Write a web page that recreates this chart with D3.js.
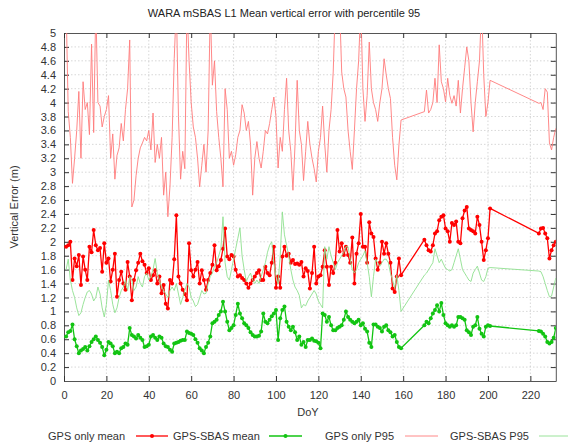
<!DOCTYPE html>
<html>
<head>
<meta charset="utf-8">
<script src="https://cdn.jsdelivr.net/npm/d3@7/dist/d3.min.js"></script>
<style>
  body { margin: 0; background: #fff; }
  svg { display: block; }
  text { font-family: "Liberation Sans", Arial, sans-serif; }
</style>
</head>
<body>
<div id="vis"></div>
<script>
// day of year for every sample
const days = [
  1,2,3,4,5,6,7,8,9,10, 11,12,13,14,15,16,17,18,19,20,
  21,22,23,24,25,26,27,28,29,30, 31,32,33,34,35,36,37,38,39,40,
  41,42,43,44,45,46,47,48,49,50, 51,52,53,54,55,56,57,58,59,60,
  61,62,63,64,65,66,67,68,69,70, 71,72,73,74,75,76,77,78,79,80,
  81,82,83,84,85,86,87,88,89,90, 91,92,93,94,95,96,97,98,99,100,
  101,102,103,104,105,106,107,108,109,110, 111,112,113,114,115,116,117,118,119,120,
  121,122,123,124,125,126,127,128,129,130, 131,132,133,134,135,136,137,138,139,140,
  141,142,143,144,145,146,147,148,149,150, 151,152,153,154,155,156,157,158,159,
  170,171,172,173,174,175,176,177,178,179, 180,181,182,183,184,185,186,187,188,189,
  190,191,192,193,194,195,196,197,198,199, 200,201,
  224,225,226,227,228,229,230,231,232
];

const gpsOnlyMean = [
  1.93,1.95,2.0,1.45,1.76,1.65,1.81,1.38,1.79,1.6,
  1.45,1.93,1.85,2.17,1.95,1.88,1.91,1.57,1.98,1.7,
  1.76,1.43,1.6,1.83,1.21,1.45,1.57,1.4,1.31,1.71,
  1.5,1.16,1.45,1.59,1.7,1.83,1.72,1.67,1.55,1.62,
  1.45,1.52,1.59,1.4,1.5,1.26,1.38,1.11,1.04,1.45,
  1.4,1.75,2.38,1.5,1.4,1.31,1.25,1.16,1.98,1.59,
  1.5,1.6,1.71,1.4,1.59,1.45,1.31,1.45,1.55,1.67,
  1.95,1.59,1.65,1.74,1.9,2.19,1.79,1.75,1.81,1.79,
  1.6,1.5,1.52,1.48,1.45,1.4,1.34,1.4,1.45,1.5,
  1.55,1.59,1.45,1.45,1.64,1.55,1.52,1.7,1.93,1.34,
  1.5,1.34,1.79,1.93,1.8,1.83,1.7,1.74,1.68,1.69,
  1.67,1.71,1.5,1.62,1.58,1.33,1.55,1.93,1.4,1.5,
  1.52,1.64,1.88,1.64,1.38,1.64,1.55,1.7,2.17,1.86,
  1.98,1.81,1.93,1.81,1.7,2.06,1.4,1.83,1.98,2.4,
  1.93,1.93,1.7,2.28,2.12,2.07,1.76,1.6,1.7,2.0,
  1.83,1.98,1.83,1.7,1.33,1.28,1.5,1.76,1.52,
  2.03,1.95,1.88,1.86,1.95,2.12,2.15,2.31,2.36,2.38,
  2.19,2.15,2.0,2.27,2.24,2.29,2.0,1.98,2.34,2.45,
  2.5,2.19,2.17,2.15,2.12,2.36,2.24,2.0,1.74,1.88,
  2.05,2.48,
  2.12,2.19,2.2,2.12,2.05,1.76,1.88,1.95,2.0
];

const sbasMean = [
  0.64,0.7,0.72,0.81,0.6,0.5,0.4,0.44,0.46,0.49,
  0.44,0.5,0.56,0.6,0.64,0.59,0.55,0.49,0.37,0.45,
  0.56,0.54,0.5,0.4,0.42,0.4,0.47,0.49,0.54,0.52,
  0.76,0.66,0.64,0.61,0.66,0.62,0.59,0.49,0.5,0.52,
  0.64,0.66,0.62,0.59,0.64,0.62,0.54,0.5,0.49,0.45,
  0.42,0.54,0.55,0.56,0.58,0.59,0.59,0.71,0.69,0.68,
  0.66,0.6,0.55,0.47,0.44,0.4,0.49,0.55,0.64,0.83,
  0.85,0.88,0.95,1.0,1.14,1.0,0.85,0.73,0.76,0.8,
  0.95,1.11,0.97,0.9,0.83,0.8,0.76,0.7,0.66,0.64,
  0.64,0.65,0.71,0.97,0.85,0.83,0.88,0.93,0.97,1.02,
  0.59,0.9,1.02,1.07,0.85,0.78,0.73,0.78,0.7,0.59,
  0.64,0.52,0.56,0.49,0.59,0.59,0.61,0.58,0.57,0.55,
  0.47,0.97,0.95,0.85,0.92,0.8,0.73,0.73,0.76,0.78,
  0.8,0.88,1.0,0.92,0.88,0.85,0.83,0.85,0.88,0.8,
  0.83,0.75,0.71,0.55,0.49,0.81,0.81,0.78,0.76,0.71,
  0.78,0.8,0.73,0.7,0.64,0.66,0.56,0.49,0.47,
  0.8,0.85,0.83,0.9,0.97,1.02,1.09,1.0,1.12,0.95,
  0.83,0.8,0.78,0.8,0.78,0.8,0.92,0.92,0.9,0.88,
  0.73,0.7,0.66,0.78,0.8,0.92,0.75,0.68,0.64,0.78,
  0.8,0.79,
  0.72,0.71,0.68,0.64,0.56,0.54,0.56,0.62,0.76
];

const gpsOnlyP95 = [
  5.4,3.87,3.5,2.84,3.2,3.6,4.16,3.2,4.3,3.9,
  4.0,3.54,4.84,3.57,5.4,4.0,3.95,3.65,3.8,3.9,
  4.1,3.2,3.55,2.9,3.24,3.35,3.7,3.45,3.9,4.2,
  4.9,2.5,2.6,2.95,3.2,3.35,3.42,3.5,3.45,3.6,
  3.32,3.85,3.14,3.4,3.2,3.5,2.67,3.0,2.36,2.8,
  3.5,4.63,5.4,3.8,2.9,3.3,3.05,5.4,4.6,4.0,
  3.65,3.5,3.2,2.79,3.1,3.4,3.0,3.6,5.4,4.25,
  4.6,3.87,3.5,3.2,2.79,4.2,3.9,3.2,3.3,3.1,
  3.25,3.5,3.6,3.97,3.85,3.6,3.73,3.4,2.67,3.2,
  3.44,3.2,3.06,3.3,3.6,3.55,3.7,3.9,4.08,3.8,
  3.06,3.5,3.3,3.9,4.35,3.6,3.3,2.74,3.4,4.32,
  3.6,3.4,2.88,3.3,3.73,3.4,3.2,3.05,2.86,3.3,
  3.5,3.95,3.4,3.0,3.6,3.9,4.44,5.4,5.4,5.4,
  4.44,4.2,4.08,3.6,3.3,3.04,3.6,4.2,4.6,5.4,
  4.2,3.73,4.1,4.87,4.2,4.0,3.9,3.73,4.0,4.2,
  4.63,4.4,4.2,4.06,3.5,3.1,2.89,3.39,3.75,
  3.87,4.18,3.85,3.9,4.0,4.35,4.0,4.83,4.3,4.2,
  4.01,4.35,4.1,3.99,4.1,3.95,4.32,3.85,4.2,4.5,
  4.8,4.6,4.0,3.58,4.0,4.3,4.6,5.4,4.4,3.8,
  4.0,4.32,
  3.99,4.0,3.9,4.2,4.15,3.42,3.32,3.5,3.63
];

const sbasP95 = [
  1.6,1.75,1.45,1.3,1.2,1.05,0.94,0.98,1.1,1.2,
  1.28,1.3,1.25,1.15,1.2,1.35,1.25,1.05,0.92,1.1,
  1.45,1.3,1.1,0.98,1.05,1.2,1.3,1.35,1.45,1.3,
  1.5,1.45,1.3,1.35,1.5,1.4,1.35,1.5,1.55,1.45,
  1.5,1.6,1.76,1.55,1.45,1.35,1.3,1.25,1.2,1.3,
  1.35,1.3,1.4,1.25,1.1,1.2,1.3,1.4,1.35,1.2,
  1.15,1.07,1.1,1.2,1.3,1.25,1.26,1.4,1.5,1.55,
  1.65,1.7,1.8,1.9,2.36,1.7,1.5,1.45,1.6,1.75,
  1.9,2.05,2.2,1.8,1.6,1.43,1.5,1.55,1.45,1.4,
  1.45,1.4,1.5,1.6,1.7,1.85,1.95,2.0,1.7,1.5,
  1.4,1.8,2.43,2.1,1.95,1.8,1.6,1.45,1.35,1.3,
  1.23,1.05,1.1,1.08,1.15,1.2,1.25,1.3,1.25,1.15,
  1.1,1.05,1.93,1.75,1.93,1.8,1.7,1.6,1.7,1.75,
  1.8,1.85,1.93,1.93,1.75,1.6,1.55,1.6,1.7,1.75,
  1.8,1.87,1.7,1.5,1.21,1.5,1.75,1.7,1.65,1.7,
  1.75,1.75,1.7,1.55,1.45,1.33,1.52,1.3,1.0,
  1.52,1.55,1.6,1.65,1.7,1.9,1.8,1.7,1.75,1.68,
  1.62,1.6,1.58,1.6,1.7,1.8,1.9,1.75,1.6,1.55,
  1.5,1.45,1.43,1.55,1.6,1.65,1.55,1.45,1.43,1.5,
  1.62,1.63,
  1.58,1.57,1.5,1.4,1.3,1.21,1.22,1.35,1.48
];

const xTicks = [0,20,40,60,80,100,120,140,160,180,200,220];
const yTicks = [0,0.2,0.4,0.6,0.8,1,1.2,1.4,1.6,1.8,2,2.2,2.4,2.6,2.8,3,3.2,3.4,3.6,3.8,4,4.2,4.4,4.6,4.8,5];

let width = 568, height = 448;
let plot = {left: 64, right: 555.8, top: 33, bottom: 381};

let svg = d3.select('#vis')
  .append('svg')
  .attr('width', width)
  .attr('height', height)
  .style('background-color', '#fff');

let x = d3.scaleLinear().domain([0, 232]).range([plot.left, plot.right]);
let y = d3.scaleLinear().domain([0, 5]).range([plot.bottom, plot.top]);

svg.append('defs').append('clipPath').attr('id', 'clip')
  .append('rect')
  .attr('x', plot.left).attr('y', plot.top)
  .attr('width', plot.right - plot.left).attr('height', plot.bottom - plot.top);

// grid
let grid = svg.append('g').attr('stroke', '#bdbdbd').attr('stroke-width', 0.6).attr('stroke-dasharray', '1.5,2');
grid.selectAll('.gy').data(yTicks.slice(1, -1)).enter().append('line')
  .attr('x1', plot.left).attr('x2', plot.right)
  .attr('y1', d => y(d)).attr('y2', d => y(d));
grid.selectAll('.gx').data(xTicks.slice(1)).enter().append('line')
  .attr('y1', plot.top).attr('y2', plot.bottom)
  .attr('x1', d => x(d)).attr('x2', d => x(d));

// axes, ticks inward, mirrored
let axL = svg.append('g').attr('transform', 'translate(' + plot.left + ',0)')
  .call(d3.axisLeft(y).tickValues(yTicks).tickSizeInner(-5).tickSizeOuter(0).tickPadding(8).tickFormat(d => String(d)));
let axR = svg.append('g').attr('transform', 'translate(' + plot.right + ',0)')
  .call(d3.axisRight(y).tickValues(yTicks).tickSizeInner(-5).tickSizeOuter(0).tickFormat(''));
let axB = svg.append('g').attr('transform', 'translate(0,' + plot.bottom + ')')
  .call(d3.axisBottom(x).tickValues(xTicks).tickSizeInner(-5).tickSizeOuter(0).tickPadding(10));
let axT = svg.append('g').attr('transform', 'translate(0,' + plot.top + ')')
  .call(d3.axisTop(x).tickValues(xTicks).tickSizeInner(-5).tickSizeOuter(0).tickFormat(''));

[axL, axR, axB, axT].forEach(a => {
  a.select('.domain').attr('stroke', '#555');
  a.selectAll('.tick line').attr('stroke', '#333');
  a.selectAll('text').style('font-size', '11px').attr('fill', '#333');
});

// labels
svg.append('text')
  .attr('x', 284).attr('y', 17)
  .attr('text-anchor', 'middle')
  .style('font-size', '11px').attr('fill', '#222')
  .text('WARA mSBAS L1 Mean vertical error with percentile 95');

svg.append('text')
  .attr('x', 308).attr('y', 416)
  .attr('text-anchor', 'middle')
  .style('font-size', '11px').attr('fill', '#333')
  .text('DoY');

svg.append('text')
  .attr('transform', 'translate(18,' + ((plot.top + plot.bottom) / 2) + ')rotate(-90)')
  .attr('text-anchor', 'middle')
  .style('font-size', '11px').attr('fill', '#333')
  .text('Vertical Error (m)');

// series
let series = [
  {name: 'GPS only mean', values: gpsOnlyMean, color: '#ff0000', width: 1.3, dots: true},
  {name: 'GPS-SBAS mean', values: sbasMean, color: '#12c412', width: 1.3, dots: true},
  {name: 'GPS only P95', values: gpsOnlyP95, color: '#ff7a7a', width: 0.9, dots: false},
  {name: 'GPS-SBAS P95', values: sbasP95, color: '#8fe08f', width: 0.9, dots: false}
];

let line = d3.line().x(d => x(d[0])).y(d => y(d[1]));
let marks = svg.append('g').attr('clip-path', 'url(#clip)');

series.forEach(s => {
  let pts = days.map((d, i) => [d, s.values[i]]);
  marks.append('path')
    .datum(pts)
    .attr('fill', 'none')
    .attr('stroke', s.color)
    .attr('stroke-width', s.width)
    .attr('d', line);
  if (s.dots) {
    marks.append('g').selectAll('circle')
      .data(pts).enter().append('circle')
      .attr('cx', d => x(d[0]))
      .attr('cy', d => y(d[1]))
      .attr('r', 2)
      .attr('fill', s.color);
  }
});

// legend
let legendPos = [
  {tx: 48, l1: 136, l2: 168},
  {tx: 173, l1: 269, l2: 302},
  {tx: 325, l1: 405, l2: 438},
  {tx: 450, l1: 539, l2: 572}
];
let ly = 436;
series.forEach((s, i) => {
  let p = legendPos[i];
  svg.append('text')
    .attr('x', p.tx).attr('y', ly + 4)
    .style('font-size', '11px').attr('fill', '#333')
    .text(s.name);
  svg.append('line')
    .attr('x1', p.l1).attr('x2', p.l2)
    .attr('y1', ly).attr('y2', ly)
    .attr('stroke', s.color).attr('stroke-width', s.width);
  if (s.dots) {
    svg.append('circle')
      .attr('cx', (p.l1 + p.l2) / 2).attr('cy', ly)
      .attr('r', 2).attr('fill', s.color);
  }
});
</script>
</body>
</html>
